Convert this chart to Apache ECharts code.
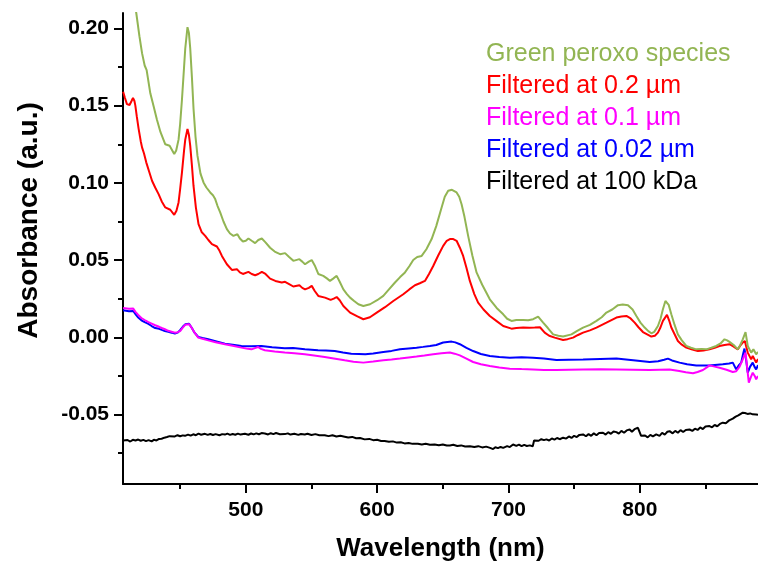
<!DOCTYPE html>
<html>
<head>
<meta charset="utf-8">
<script src="https://cdn.jsdelivr.net/npm/echarts@6/dist/echarts.min.js"></script>
<style>
html,body{margin:0;padding:0;background:#fff;}
#chart{width:758px;height:563px;}
</style>
</head>
<body>
<div id="chart"></div>
<script>
const seriesNames = ["Green peroxo species", "Filtered at 0.2 \u00b5m", "Filtered at 0.1 \u00b5m", "Filtered at 0.02 \u00b5m", "Filtered at 100 kDa"];
const seriesColors = ["#92b553", "#ff0000", "#ff00ff", "#0000ff", "#000000"];

const xMajorTicks = [500, 600, 700, 800];
const xMinorTicks = [450, 550, 650, 750, 850];
const yMajorTicks = [-0.05, 0.00, 0.05, 0.10, 0.15, 0.20];
const yMinorTicks = [-0.075, -0.025, 0.025, 0.075, 0.125, 0.175];

const greenPeroxo = [[407,0.262],[412,0.235],[416.6,0.21],[419,0.195],[421,0.184],[423,0.176],[424.5,0.173],[427.3,0.158],[430,0.149],[432.3,0.141],[435,0.133],[438.7,0.125],[442,0.124],[445.5,0.1187],[447,0.121],[448.8,0.128],[450,0.138],[451.4,0.154],[453,0.175],[453.9,0.187],[455.6,0.2008],[456.7,0.197],[457.7,0.187],[459,0.168],[460.2,0.148],[461.7,0.13],[463.2,0.1176],[465.5,0.106],[467.8,0.1003],[470,0.097],[472.9,0.0938],[475,0.092],[476.7,0.0895],[478.5,0.085],[480.5,0.0809],[483,0.075],[485.6,0.07],[488,0.0672],[490.6,0.0657],[493.6,0.0668],[495.5,0.064],[497.8,0.062],[500,0.0625],[502,0.064],[504.5,0.0625],[507.1,0.061],[509.5,0.063],[512.2,0.064],[515,0.0615],[518.5,0.058],[522,0.0555],[526.1,0.0538],[529.9,0.0545],[533,0.052],[536.2,0.0495],[540.8,0.0506],[543,0.049],[545.1,0.0473],[548,0.049],[550.2,0.050],[552.5,0.0465],[555.2,0.041],[559,0.0398],[562,0.038],[564.1,0.0365],[566.5,0.038],[569.2,0.0398],[571.5,0.036],[574.3,0.031],[577,0.028],[579.4,0.0257],[582.5,0.0235],[585.7,0.0214],[589.5,0.0203],[594.6,0.0214],[600,0.024],[604.7,0.0268],[609,0.031],[613.6,0.0355],[617.5,0.039],[621.2,0.042],[624.5,0.046],[627.5,0.0501],[630.5,0.052],[633.9,0.0527],[637.5,0.057],[641.5,0.0636],[645,0.072],[649.1,0.0841],[651.5,0.091],[654.1,0.0949],[657,0.0955],[660.5,0.0938],[662.5,0.091],[664.3,0.0862],[666.5,0.078],[669.3,0.0657],[672.5,0.053],[675.7,0.042],[680,0.034],[685.8,0.0246],[691,0.019],[696,0.0149],[699,0.012],[702.3,0.0106],[706,0.0112],[711.2,0.0112],[715,0.011],[718.8,0.0117],[722.6,0.0134],[726.4,0.0095],[730,0.006],[734,0.0019],[738,0.001],[741.6,0.0005],[748,0.0019],[752,0.004],[756.8,0.0063],[762,0.008],[767,0.0106],[771,0.013],[774.6,0.016],[779,0.018],[783.4,0.0208],[787,0.0212],[791,0.0208],[794.5,0.018],[797.4,0.0138],[800.5,0.0095],[803.7,0.0063],[806.5,0.004],[808.8,0.0026],[811,0.0035],[813.8,0.0073],[815.8,0.012],[817.6,0.0182],[819.5,0.0235],[820.7,0.0246],[822,0.021],[824,0.0149],[826.5,0.008],[829,0.0019],[832,-0.002],[835.4,-0.0056],[839,-0.0068],[843,-0.0078],[847,-0.0075],[850.6,-0.0078],[854.5,-0.0068],[858.2,-0.0056],[861.5,-0.004],[864.5,-0.0013],[866.5,-0.002],[868.3,-0.003],[871.5,-0.005],[874.6,-0.0078],[876.5,-0.005],[878.4,-0.0013],[880.5,0.0034],[882.2,-0.0056],[884.8,-0.0099],[886.5,-0.0078],[888.6,-0.011],[890,-0.0095]];

const filtered02 = [[406.6,0.159],[408,0.155],[409.5,0.151],[411.5,0.1504],[413,0.153],[414.1,0.155],[415.2,0.153],[415.9,0.15],[417,0.143],[418.4,0.135],[420,0.127],[421,0.123],[422.5,0.119],[424.2,0.1133],[426.5,0.107],[428.6,0.1014],[431,0.097],[433.6,0.0927],[436,0.088],[438.7,0.0841],[442.5,0.0826],[445.5,0.0793],[447.2,0.082],[448.8,0.0873],[450,0.096],[451.4,0.1068],[453,0.121],[453.9,0.128],[455.6,0.1349],[456.7,0.131],[457.7,0.124],[459,0.111],[460.2,0.098],[462,0.084],[464,0.0733],[466.5,0.068],[469.1,0.0657],[471.5,0.063],[474.2,0.0603],[478,0.0588],[480,0.056],[481.8,0.0527],[485.6,0.0473],[489.4,0.0436],[493.2,0.0441],[495.5,0.042],[497.8,0.041],[502,0.0424],[504.5,0.041],[507.1,0.0402],[509.5,0.041],[512.2,0.0424],[515,0.041],[518.5,0.038],[522.5,0.0365],[527.4,0.0355],[529.9,0.0359],[533,0.0345],[536.2,0.0329],[540.8,0.0337],[543,0.032],[545.1,0.031],[548,0.032],[550.2,0.0333],[552.5,0.03],[555.2,0.0268],[560.3,0.0257],[564.6,0.0242],[567,0.025],[569.2,0.0261],[571.5,0.024],[574.3,0.0203],[579.4,0.016],[585,0.0135],[589.5,0.0117],[594.5,0.013],[599.7,0.016],[606,0.0195],[612.3,0.0235],[619.9,0.0279],[624.5,0.031],[628.8,0.0337],[632.5,0.035],[636.4,0.0365],[639.5,0.041],[642.7,0.0462],[646.5,0.053],[650.3,0.0592],[653,0.0625],[655.4,0.0636],[658,0.0636],[660.5,0.0625],[663,0.058],[665.5,0.0527],[668,0.045],[670.6,0.0365],[674,0.028],[676.9,0.0225],[681,0.018],[685.8,0.0138],[691,0.0105],[696,0.0073],[702.3,0.0056],[706,0.006],[711.2,0.0063],[716,0.0062],[720,0.0063],[724,0.0065],[727.6,0.003],[731,0.001],[735.2,-0.0002],[741.6,-0.0017],[745,-0.0012],[749.2,-0.0002],[753,0.0015],[756.8,0.003],[762,0.0045],[767,0.0063],[774.6,0.0095],[782.2,0.0128],[786,0.0135],[789.8,0.0138],[793,0.0122],[796.1,0.0095],[799,0.0065],[802.4,0.0034],[808.8,0.0005],[811.5,0.001],[813.8,0.003],[815.8,0.0065],[817.6,0.0106],[820.7,0.0145],[822.3,0.011],[824,0.0063],[826.5,0.002],[829,-0.0024],[832,-0.0048],[835.4,-0.0067],[840,-0.008],[844.2,-0.0089],[848.5,-0.0085],[853.1,-0.0078],[857,-0.0068],[860.7,-0.0056],[864.5,-0.005],[868.3,-0.0045],[871.5,-0.006],[874.6,-0.0078],[876.8,-0.005],[878.4,-0.0034],[880,-0.0024],[881,-0.006],[882.2,-0.0099],[884.8,-0.0143],[886,-0.012],[887.3,-0.011],[888.6,-0.0164],[890,-0.014]];

const filtered01 = [[406.6,0.019],[408,0.0188],[411,0.0185],[414.3,0.0186],[416,0.0165],[418.1,0.0145],[420.5,0.0125],[423,0.0112],[425.5,0.01],[428.3,0.0089],[431,0.0078],[434,0.0068],[436,0.006],[438.4,0.0052],[441,0.0042],[443.5,0.0036],[446,0.003],[448,0.0033],[450,0.004],[452,0.0062],[454,0.0082],[455.4,0.0089],[456.8,0.0085],[458.7,0.0063],[461,0.003],[463.8,-0.0002],[467,-0.001],[471.4,-0.002],[477,-0.0032],[484.1,-0.0045],[490,-0.0055],[496.7,-0.0067],[500.5,-0.0073],[504.3,-0.0078],[507,-0.007],[509.4,-0.0063],[511.5,-0.0075],[514.5,-0.0084],[522,-0.0092],[529.7,-0.0099],[537,-0.0104],[544.9,-0.011],[552,-0.0118],[560.1,-0.0127],[567,-0.0137],[575.3,-0.0149],[582,-0.0158],[589.5,-0.0164],[597,-0.0157],[604.7,-0.0149],[611,-0.0144],[617.4,-0.0138],[624,-0.0131],[630,-0.0125],[636,-0.0118],[642.7,-0.011],[649,-0.0104],[655.4,-0.0099],[659,-0.0106],[663,-0.0117],[668,-0.0138],[673.1,-0.016],[679,-0.0175],[685.8,-0.0186],[693,-0.0196],[701,-0.0203],[710,-0.0206],[718.7,-0.0208],[727,-0.0211],[736.5,-0.0212],[746,-0.021],[756.8,-0.0208],[770,-0.0207],[782.2,-0.0208],[795,-0.021],[807.5,-0.0212],[815,-0.021],[822.6,-0.0208],[830,-0.0218],[835,-0.0226],[840.5,-0.0233],[844,-0.0225],[848.1,-0.0212],[851,-0.0195],[853.1,-0.0182],[857,-0.019],[860.7,-0.0197],[866,-0.021],[870.8,-0.0225],[873.4,-0.022],[876,-0.019],[878.4,-0.0143],[880.5,-0.0099],[881.8,-0.02],[883,-0.0294],[884.5,-0.026],[886,-0.0229],[887.5,-0.025],[888.6,-0.0272],[890,-0.025]];

const filtered002 = [[406.6,0.0175],[408,0.0171],[411,0.0168],[414.3,0.0171],[416,0.015],[418.1,0.0128],[420.5,0.011],[423,0.0098],[425.5,0.0088],[428.3,0.0073],[431,0.006],[434,0.0055],[436,0.0048],[438.4,0.0041],[441,0.0035],[443.5,0.003],[446,0.0024],[448,0.003],[449.8,0.0045],[452,0.0068],[454,0.0085],[455.4,0.0095],[456.8,0.0088],[458.7,0.0063],[461,0.003],[463.8,0.0002],[467,-0.0005],[471.4,-0.0013],[477,-0.0025],[484.1,-0.0041],[490,-0.0048],[496.7,-0.0056],[504,-0.0058],[511.9,-0.0056],[520,-0.0065],[529.7,-0.0071],[536,-0.007],[545,-0.0078],[555,-0.0084],[561,-0.0085],[567.7,-0.0089],[574,-0.0098],[580.3,-0.0106],[586,-0.0108],[591,-0.011],[597,-0.0105],[604.7,-0.0095],[611,-0.0088],[617.4,-0.0078],[624,-0.0072],[630,-0.0067],[635,-0.0062],[640.2,-0.0056],[645,-0.005],[650.3,-0.0034],[653.5,-0.003],[656.7,-0.0028],[659.5,-0.0033],[663,-0.0045],[668,-0.0068],[673.1,-0.0089],[679,-0.0108],[685.8,-0.0121],[693,-0.0128],[701,-0.0132],[710,-0.013],[718.7,-0.0132],[727,-0.0138],[736.5,-0.0147],[746,-0.0145],[756.8,-0.0143],[770,-0.014],[782.2,-0.0138],[795,-0.0148],[807.5,-0.016],[814,-0.0155],[818.5,-0.0145],[821.4,-0.0138],[824.5,-0.015],[830.3,-0.0164],[836,-0.0175],[843,-0.0182],[853,-0.0182],[863.2,-0.0175],[868,-0.017],[870.8,-0.0164],[873.4,-0.0208],[875.5,-0.018],[877.2,-0.0164],[878.6,-0.011],[879.7,-0.0073],[881,-0.015],[882.2,-0.0229],[884,-0.019],[886,-0.0164],[887.3,-0.019],[888.6,-0.0208],[890,-0.018]];

const filtered100kDa = [[406.6,-0.0668],[408,-0.0672],[410,-0.0665],[412,-0.0675],[414,-0.0664],[416,-0.0668],[418.1,-0.0662],[420,-0.067],[422,-0.0664],[424,-0.0672],[426,-0.0666],[428.3,-0.0674],[430,-0.0664],[432,-0.0668],[434,-0.0658],[435.9,-0.0657],[438,-0.065],[440,-0.0646],[442,-0.064],[443.5,-0.0636],[446,-0.0642],[448,-0.0634],[450,-0.0641],[452,-0.0635],[453.7,-0.0638],[456,-0.063],[458,-0.0637],[460,-0.0628],[462,-0.0634],[464,-0.0624],[466,-0.0631],[468.9,-0.0625],[471,-0.0632],[473,-0.0626],[475,-0.0633],[477,-0.0627],[480,-0.0634],[482,-0.0627],[484.1,-0.063],[486,-0.0624],[488,-0.0632],[490,-0.0626],[492,-0.0631],[494,-0.0624],[496,-0.063],[499.3,-0.0625],[502,-0.0631],[504,-0.0623],[506,-0.0629],[508,-0.0622],[510,-0.0628],[512,-0.062],[514.5,-0.0623],[517,-0.0629],[519,-0.0621],[521,-0.0627],[523,-0.062],[526,-0.0628],[529.7,-0.0627],[532,-0.0622],[534,-0.063],[537,-0.0625],[540,-0.0632],[542,-0.0626],[544.9,-0.063],[547,-0.0625],[550,-0.0633],[553,-0.0627],[556,-0.0634],[560.1,-0.0634],[563,-0.064],[566,-0.0634],[569,-0.0642],[572,-0.0638],[575.3,-0.0644],[578,-0.0649],[581,-0.0645],[584,-0.0654],[587,-0.0652],[590.5,-0.0661],[594,-0.0658],[597,-0.0666],[600,-0.0664],[603,-0.0671],[605.7,-0.0672],[609,-0.0677],[612,-0.0674],[615,-0.0682],[618,-0.068],[620.9,-0.0687],[624,-0.0684],[627,-0.069],[631,-0.0689],[634,-0.0694],[637,-0.069],[640.2,-0.0696],[643.8,-0.0694],[647,-0.0699],[650,-0.0694],[653,-0.0701],[655.4,-0.07],[658,-0.0696],[661,-0.0704],[664,-0.07],[667,-0.0707],[670.6,-0.0705],[674,-0.0711],[677,-0.0705],[680,-0.0713],[683,-0.0708],[686,-0.0716],[688.3,-0.0724],[690,-0.0712],[692,-0.0718],[694,-0.071],[696,-0.0716],[699,-0.0705],[701,-0.0711],[703.5,-0.0694],[706,-0.0703],[708,-0.0695],[710,-0.0705],[712,-0.0697],[714,-0.0704],[716.2,-0.07],[718.5,-0.0706],[719.5,-0.0668],[721,-0.0662],[723,-0.067],[725,-0.066],[727,-0.0666],[728.9,-0.0661],[731,-0.0668],[733,-0.0655],[735,-0.0663],[737,-0.0652],[739,-0.066],[741.6,-0.065],[744,-0.0656],[746,-0.0642],[748,-0.0652],[750,-0.0638],[752,-0.0646],[754,-0.0632],[756.8,-0.0629],[759,-0.0641],[761,-0.0627],[763,-0.0638],[765,-0.0622],[767,-0.0634],[769,-0.062],[772,-0.0618],[774,-0.063],[776,-0.0614],[778,-0.0625],[780,-0.061],[782.2,-0.0614],[784,-0.0624],[786,-0.0606],[788,-0.0618],[790,-0.0603],[792.3,-0.0597],[794,-0.0612],[796,-0.0595],[797.5,-0.0606],[798.6,-0.0586],[800,-0.0598],[801,-0.0638],[802.4,-0.065],[804,-0.0636],[806,-0.0648],[808,-0.0632],[810,-0.0642],[812.5,-0.0629],[815,-0.0638],[817,-0.0619],[819,-0.063],[821,-0.0612],[822.7,-0.0608],[825,-0.0622],[827,-0.0606],[829,-0.0618],[831,-0.0601],[833,-0.0613],[835,-0.06],[837.9,-0.0597],[840,-0.0606],[842,-0.0592],[844,-0.06],[846,-0.0584],[848,-0.0594],[850,-0.0578],[853.1,-0.0575],[855,-0.0583],[857,-0.0568],[859,-0.0576],[861,-0.0561],[863.2,-0.0553],[865.5,-0.0556],[868,-0.0538],[870.8,-0.0527],[873,-0.0514],[875,-0.0506],[876.5,-0.0494],[878.4,-0.0488],[880,-0.049],[882,-0.0496],[884,-0.0493],[886,-0.0499],[888.6,-0.05],[890,-0.0502]];

const seriesData = [greenPeroxo, filtered02, filtered01, filtered002, filtered100kDa];

const X_MIN = 406.5, X_MAX = 890, Y_MIN = -0.095, Y_MAX = 0.21;
const FONT = "Liberation Sans, Arial, sans-serif";

const chart = echarts.init(document.getElementById('chart'));

const series = [];
// draw order: black, blue, magenta, red, green
[4, 3, 2, 1, 0].forEach(function (i) {
  series.push({
    name: seriesNames[i],
    type: 'line',
    data: seriesData[i],
    showSymbol: false,
    symbol: 'none',
    smooth: false,
    lineStyle: { color: seriesColors[i], width: 2 },
    itemStyle: { color: seriesColors[i] },
    xAxisIndex: 0,
    yAxisIndex: 0,
    clip: true
  });
});

const option = {
  animation: false,
  backgroundColor: '#fff',
  grid: { left: 123, right: 0, top: 13, bottom: 79, containLabel: false, outerBoundsMode: 'none' },
  legend: {
    show: true,
    orient: 'vertical',
    left: 476,
    top: 37,
    icon: 'none',
    itemWidth: 0,
    itemHeight: 25,
    itemGap: 7,
    selectedMode: false,
    data: seriesNames.map(function (n, i) {
      return { name: n, textStyle: { color: seriesColors[i] } };
    }),
    textStyle: { fontFamily: FONT, fontSize: 25, lineHeight: 25 }
  },
  xAxis: [
    {
      type: 'value', min: X_MIN, max: X_MAX, position: 'bottom',
      axisLine: { show: true, onZero: false, lineStyle: { color: '#000', width: 2 } },
      splitLine: { show: false },
      name: 'Wavelength (nm)', nameLocation: 'middle', nameGap: 52,
      nameTextStyle: { fontFamily: FONT, fontSize: 26, fontWeight: 'bold', color: '#000' },
      axisTick: { show: true, inside: false, length: 9, customValues: xMajorTicks, lineStyle: { color: '#000', width: 2 } },
      axisLabel: { show: true, margin: 16, customValues: xMajorTicks, fontFamily: FONT, fontSize: 21, fontWeight: 'bold', color: '#000',
        formatter: function (v) { return String(Math.round(v)); } }
    },
    {
      type: 'value', min: X_MIN, max: X_MAX, position: 'bottom',
      axisLine: { show: false, onZero: false }, splitLine: { show: false },
      axisTick: { show: true, inside: false, length: 5, customValues: xMinorTicks, lineStyle: { color: '#000', width: 2 } },
      axisLabel: { show: false }
    }
  ],
  yAxis: [
    {
      type: 'value', min: Y_MIN, max: Y_MAX, position: 'left',
      axisLine: { show: true, onZero: false, lineStyle: { color: '#000', width: 2 } },
      splitLine: { show: false },
      name: 'Absorbance (a.u.)', nameLocation: 'middle', nameGap: 80,
      nameTextStyle: { fontFamily: FONT, fontSize: 28, fontWeight: 'bold', color: '#000', padding: [0, 0, 0, 56] },
      axisTick: { show: true, inside: false, length: 9, customValues: yMajorTicks, lineStyle: { color: '#000', width: 2 } },
      axisLabel: { show: true, margin: 14, customValues: yMajorTicks, fontFamily: FONT, fontSize: 21, fontWeight: 'bold', color: '#000',
        formatter: function (v) { return v.toFixed(2); } }
    },
    {
      type: 'value', min: Y_MIN, max: Y_MAX, position: 'left',
      axisLine: { show: false, onZero: false }, splitLine: { show: false },
      axisTick: { show: true, inside: false, length: 5, customValues: yMinorTicks, lineStyle: { color: '#000', width: 2 } },
      axisLabel: { show: false }
    }
  ],
  series: series
};

chart.setOption(option);
</script>
</body>
</html>
